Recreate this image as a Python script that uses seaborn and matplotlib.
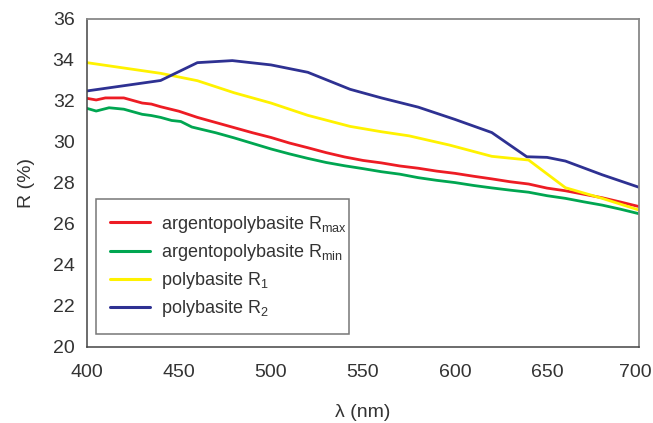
import matplotlib
matplotlib.use("Agg")
import matplotlib.pyplot as plt
import matplotlib.transforms as mtransforms
import seaborn as sns
import pandas as pd

# ---- data ----
wl_rmax = [400, 405, 410, 420, 430, 435, 440, 450, 460, 470, 480, 490, 500, 510, 520, 530, 540,
           550, 560, 570, 580, 590, 600, 610, 620, 630, 640, 650, 660, 670, 680, 690, 700]
r_max = [32.13, 32.05, 32.15, 32.15, 31.9, 31.85, 31.72, 31.5, 31.2, 30.95, 30.7, 30.45, 30.22,
         29.95, 29.72, 29.48, 29.27, 29.1, 28.98, 28.83, 28.72, 28.58, 28.47, 28.33, 28.2, 28.06,
         27.95, 27.75, 27.62, 27.45, 27.28, 27.07, 26.85]

wl_rmin = [400, 405, 412, 420, 430, 435, 440, 446, 451, 457, 470, 480, 490, 500, 510, 520, 530,
           540, 550, 560, 570, 580, 590, 600, 610, 620, 630, 640, 650, 660, 670, 680, 690, 700]
r_min = [31.64, 31.51, 31.67, 31.6, 31.35, 31.29, 31.2, 31.05, 31.0, 30.73, 30.45, 30.2, 29.93,
         29.66, 29.42, 29.2, 29.0, 28.84, 28.7, 28.55, 28.43, 28.26, 28.13, 28.02, 27.88, 27.76,
         27.65, 27.55, 27.38, 27.25, 27.08, 26.92, 26.72, 26.5]

wl_r1 = [400, 440, 460, 480, 500, 520, 543, 560, 575, 597, 620, 640, 660, 680, 700]
r_1 = [33.87, 33.35, 32.99, 32.4, 31.9, 31.3, 30.76, 30.5, 30.3, 29.85, 29.3, 29.12, 27.77, 27.25, 26.68]

wl_r2 = [400, 440, 460, 479, 500, 520, 543, 560, 580, 600, 620, 639, 650, 660, 680, 700]
r_2 = [32.49, 33.0, 33.87, 33.97, 33.76, 33.4, 32.57, 32.15, 31.7, 31.1, 30.46, 29.28, 29.25, 29.07, 28.4, 27.79]

labels = [r"argentopolybasite R$_{\mathrm{max}}$",
          r"argentopolybasite R$_{\mathrm{min}}$",
          r"polybasite R$_{\mathrm{1}}$",
          r"polybasite R$_{\mathrm{2}}$"]
colors = ["#ed1c24", "#00a651", "#fff200", "#2e3192"]

x_ticks = [400, 450, 500, 550, 600, 650, 700]
y_ticks = [20, 22, 24, 26, 28, 30, 32, 34, 36]

frames = []
for lab, wl, r in zip(labels, [wl_rmax, wl_rmin, wl_r1, wl_r2], [r_max, r_min, r_1, r_2]):
    frames.append(pd.DataFrame({"wl": wl, "R": r, "series": lab}))
df = pd.concat(frames, ignore_index=True)

sns.set_style("white")
plt.rcParams["font.family"] = ["Liberation Sans", "DejaVu Sans"]
plt.rcParams["mathtext.fontset"] = "custom"
plt.rcParams["mathtext.rm"] = "Liberation Sans"
plt.rcParams["mathtext.it"] = "Liberation Sans:italic"

fig = plt.figure(figsize=(6.53, 4.23), dpi=100)
ax = fig.add_axes([0.1332, 0.1797, 0.8454, 0.7754])

sns.lineplot(data=df, x="wl", y="R", hue="series", hue_order=labels,
             palette=colors, linewidth=2.0, ax=ax, sort=False, estimator=None)

ax.set_xlim(400, 700)
ax.set_ylim(20, 36)
ax.set_xticks(x_ticks)
ax.set_yticks(y_ticks)
ax.tick_params(axis="x", direction="inout", length=9, width=1, colors="#333333",
               labelsize=14, pad=8)
ax.tick_params(axis="y", direction="out", length=5, width=1, colors="#333333",
               labelsize=14, pad=4)
ax.set_xlabel("λ (nm)", fontsize=14, color="#333333", labelpad=16)
ax.set_ylabel("R (%)", fontsize=14, color="#333333", labelpad=13)

# nudge the last x tick label so it stays inside the canvas
last = ax.get_xticklabels()[-1]
last.set_transform(last.get_transform() +
                   mtransforms.ScaledTranslation(-4 / 100, 0, fig.dpi_scale_trans))

for s in ["left", "bottom"]:
    ax.spines[s].set_color("#444444")
    ax.spines[s].set_linewidth(1.1)
for s in ["top", "right"]:
    ax.spines[s].set_color("#888888")
    ax.spines[s].set_linewidth(1.3)
    ax.spines[s].set_visible(True)

leg = ax.legend(loc="lower left", bbox_to_anchor=(0.016, 0.040, 0.458, 0.40),
                mode="expand", borderaxespad=0, frameon=True, fancybox=False,
                fontsize=13, handlelength=2.2, handletextpad=0.6, labelspacing=0.4,
                borderpad=0.8, title=None)
leg.get_frame().set_edgecolor("#555555")
leg.get_frame().set_linewidth(1.1)
for t in leg.get_texts():
    t.set_color("#333333")
for h in leg.get_lines():
    h.set_linewidth(2.2)

fig.savefig("out.png", dpi=100)
